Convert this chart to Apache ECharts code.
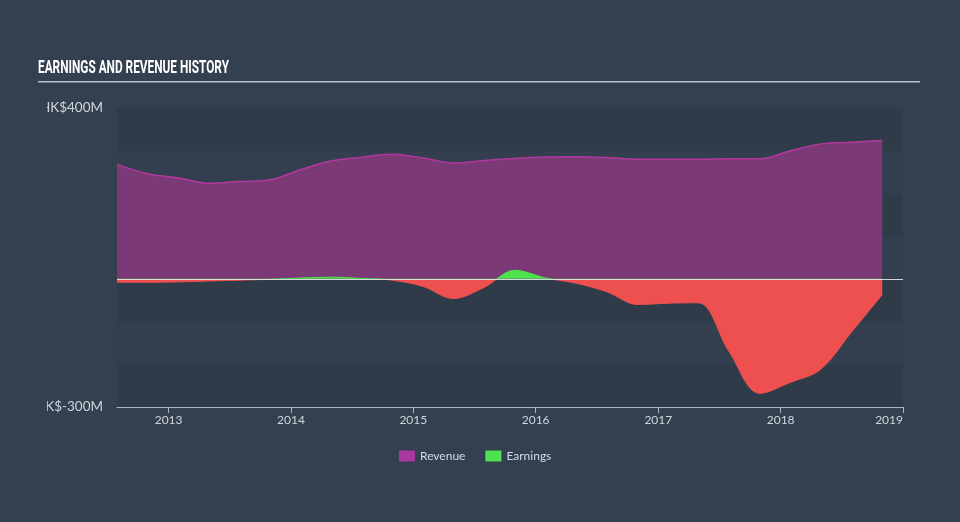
<!DOCTYPE html>
<html>
<head>
<meta charset="utf-8">
<script src="https://cdn.jsdelivr.net/npm/echarts@6/dist/echarts.min.js"></script>
<style>html,body{margin:0;padding:0;background:#34404f;}#c{width:960px;height:522px;}</style>
</head>
<body>
<div id="c"></div>
<script>
const dates = ['2012-07-31','2012-10-31','2013-01-31','2013-04-30','2013-07-31','2013-10-31',
  '2014-01-31','2014-04-30','2014-07-31','2014-10-31','2015-01-31','2015-04-30','2015-07-31',
  '2015-10-31','2016-01-31','2016-04-30','2016-07-31','2016-10-31','2017-01-31','2017-04-30',
  '2017-07-31','2017-10-31','2018-01-31','2018-04-30','2018-07-31','2018-10-31'];
const revenue = [268,246,236,224,228,232,256,276,285,292,283,271,277,282,285,286,284,280,280,280,281,281,300,316,320,324];
const earnings = [-8,-8,-7,-5,-3,-1,2,4,1,-3,-18,-46,-20,20,2,-10,-30,-60,-57,-56,-170,-268,-242,-212,-125,-37];
const xTickLabels = ['2013','2014','2015','2016','2017','2018','2019'];
const yTickLabels = {'400':'HK$400M','-300':'HK$-300M'};
const seriesNames = ['Revenue','Earnings'];
const titleText = 'EARNINGS AND REVENUE HISTORY';

const ts = d => new Date(d + 'T00:00:00Z').getTime();
const xTicks = xTickLabels.map(y => ts(y + '-01-01'));
const toPts = arr => dates.map((d, i) => [ts(d), arr[i]]);

const titleFont = 'bold 19px Roboto';
const mctx = document.createElement('canvas').getContext('2d');
mctx.font = titleFont;
const titleScale = 191 / mctx.measureText(titleText).width;

const BG = '#34404f';
const chart = echarts.init(document.getElementById('c'));
chart.setOption({
  backgroundColor: BG,
  animation: false,
  grid: { left: 117, right: 57, top: 108, bottom: 115 },
  legend: {
    bottom: 60, left: 399, padding: 0,
    itemWidth: 16, itemHeight: 11, itemGap: 20,
    icon: 'rect',
    textStyle: { color: '#d6dbe1', fontSize: 12, fontFamily: 'Lato' },
    data: seriesNames
  },
  visualMap: {
    show: false, seriesIndex: 1, dimension: 1,
    pieces: [{ gte: -1000, lt: 0, color: '#ee4f4f' }, { gte: 0, lte: 1000, color: '#4fe24f' }]
  },
  xAxis: {
    type: 'value',
    min: ts(dates[0]),
    max: xTicks[xTicks.length - 1],
    axisLine: { show: true, onZero: false, lineStyle: { color: '#a8b4c2', width: 1 } },
    axisTick: { show: true, length: 6, lineStyle: { color: '#a8b4c2' }, customValues: xTicks },
    axisLabel: {
      color: '#cfd5dc', fontSize: 12, fontFamily: 'Lato', margin: 7,
      customValues: xTicks, alignMaxLabel: 'right',
      formatter: v => xTickLabels[xTicks.indexOf(v)] || ''
    },
    splitLine: { show: false }
  },
  yAxis: {
    type: 'value', min: -300, max: 400, interval: 100,
    axisLine: { show: false }, axisTick: { show: false },
    splitLine: { show: false },
    splitArea: { show: true, areaStyle: { color: ['#2f3b49', '#333f4e'] } },
    axisLabel: {
      color: '#cfd5dc', fontSize: 13.5, fontFamily: 'Lato', margin: 14,
      formatter: v => yTickLabels[String(v)] || ''
    }
  },
  graphic: [
    { type: 'rect', left: 0, top: 95, shape: { width: 47, height: 330 }, style: { fill: BG }, z: 100 },
    { type: 'text', x: 38, y: 68, scaleX: titleScale, z: 100,
      style: { text: titleText, fill: '#ffffff', font: titleFont, textVerticalAlign: 'middle' } },
    { type: 'rect', x: 38, y: 81, shape: { width: 882, height: 1.5 }, style: { fill: '#b9c0c8' }, z: 100 }
  ],
  series: [
    {
      name: seriesNames[0], type: 'line', data: toPts(revenue), smooth: 0.35,
      symbol: 'none',
      itemStyle: { color: '#a8389f' },
      lineStyle: { color: '#b3379f', width: 1.5 },
      areaStyle: { color: '#7b3a76', opacity: 1 }
    },
    {
      name: seriesNames[1], type: 'line', data: toPts(earnings), smooth: 0.35,
      symbol: 'none',
      itemStyle: { color: '#4fe24f' },
      lineStyle: { width: 1 },
      areaStyle: { opacity: 1 },
      markLine: {
        silent: true, symbol: 'none', label: { show: false },
        lineStyle: { color: '#e6e9ec', type: 'solid', width: 1, opacity: 0.9 },
        data: [{ yAxis: 0 }]
      }
    }
  ]
});
</script>
</body>
</html>
